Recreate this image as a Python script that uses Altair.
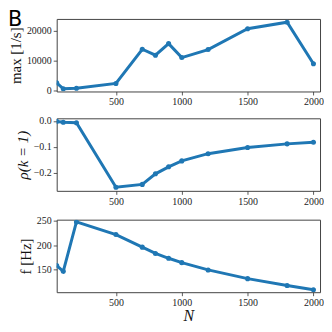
import altair as alt
import pandas as pd

N = [50, 100, 200, 500, 700, 800, 900, 1000, 1200, 1500, 1800, 2000]
max_rate = [2500, 500, 700, 2300, 13800, 11800, 15700, 11000, 13700, 20700, 22900, 8900]
rho = [-0.002, -0.005, -0.007, -0.257, -0.246, -0.205, -0.178, -0.155, -0.127, -0.103, -0.089, -0.083]
freq = [158, 146, 248, 222, 196, 183, 173, 164, 149, 131, 117, 108]

x_ticks = [500, 1000, 1500, 2000]
max_ticks = [0, 10000, 20000]
rho_ticks = [0.0, -0.1, -0.2]
f_ticks = [150, 200, 250]

df = pd.DataFrame({"N": N, "max": max_rate, "rho": rho, "f": freq})

W, H = 265, 73
COLOR = "#1f77b4"
SERIF = "Liberation Serif"


def panel(field, ytitle, domain, ticks, fmt, xtitle=None, ystyle="normal"):
    x = alt.X(
        "N:Q",
        scale=alt.Scale(domain=[50, 2050], nice=False, zero=False),
        axis=alt.Axis(values=x_ticks, format="d", title=xtitle,
                      titleFontStyle="italic", titleFontSize=16, titlePadding=0),
    )
    y = alt.Y(
        f"{field}:Q",
        scale=alt.Scale(domain=domain, nice=False, zero=False),
        axis=alt.Axis(values=ticks, format=fmt, title=ytitle,
                      titleFontStyle=ystyle, titlePadding=3),
    )
    return (
        alt.Chart(df)
        .mark_line(color=COLOR, strokeWidth=3, clip=True,
                   point=alt.OverlayMarkDef(color=COLOR, size=26, filled=True, clip=True, opacity=1))
        .encode(x=x, y=y)
        .properties(width=W, height=H)
    )


top = panel("max", "max [1/s]", [-400, 24000], max_ticks, "d")
mid = panel("rho", "ρ(k = 1)", [-0.271, 0.01], rho_ticks, ".1f", ystyle="italic")
bot = panel("f", "f [Hz]", [103, 252.7], f_ticks, "d", xtitle="N")

chart = (
    alt.vconcat(top, mid, bot, spacing=8)
    .properties(
        padding={"left": 0, "top": 0, "right": 0, "bottom": 0},
        title=alt.TitleParams("B", anchor="start", font="DejaVu Sans", fontSize=21,
                              fontWeight="normal", color="black", offset=-12, dx=0),
    )
    .configure_view(stroke="#444", strokeWidth=1)
    .configure_axis(
        grid=False, domain=False, tickSize=3.5, tickColor="#333", tickWidth=0.8,
        labelFont=SERIF, labelFontSize=10, labelColor="#222", labelPadding=2,
        titleFont=SERIF, titleFontSize=15, titleFontWeight="normal", titleColor="#111",
    )
)

chart.save("out.html", embed_options={"renderer": "svg", "actions": False})
